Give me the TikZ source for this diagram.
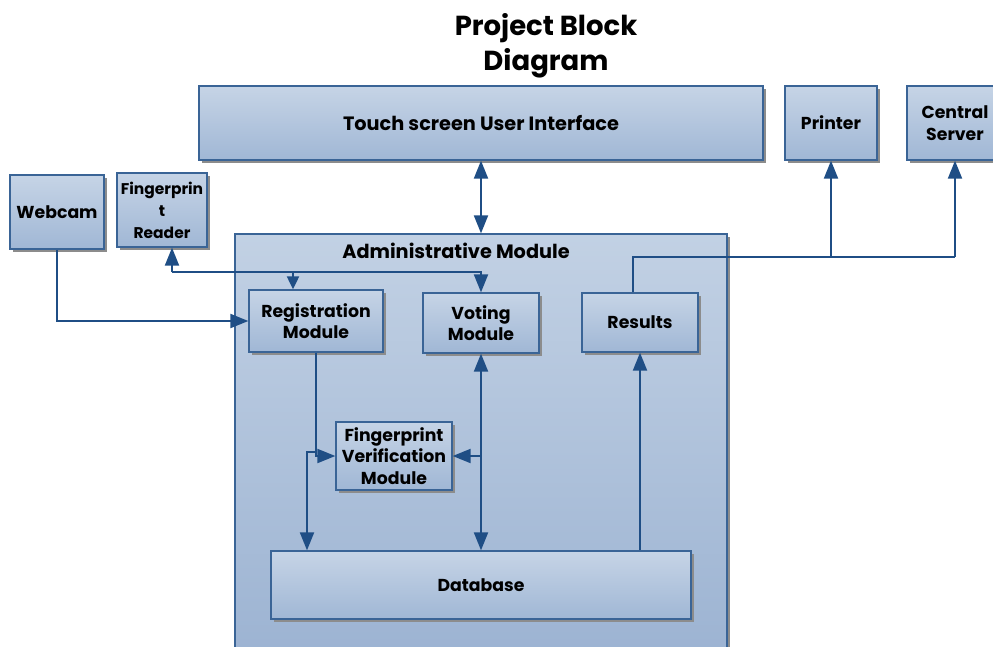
\documentclass[tikz,border=0pt]{standalone}
\usepackage{fontspec}
\setmainfont{Poppins}
\usetikzlibrary{shadows,arrows.meta}
\definecolor{bord}{HTML}{3A6496}
\definecolor{ln}{HTML}{1F4E85}
\definecolor{ftop}{HTML}{C6D4E6}
\definecolor{fbot}{HTML}{A0B7D5}
\definecolor{atop}{HTML}{C2D1E4}
\definecolor{abot}{HTML}{9CB3D2}
\begin{document}
\begin{tikzpicture}[x=1pt,y=-1pt,
  box/.style={draw=bord, line width=1.3pt, top color=ftop, bottom color=fbot,
    drop shadow={shadow xshift=3pt, shadow yshift=-3pt, fill=black!45, opacity=1},
    font=\bfseries\fontsize{17.3}{21.5}\selectfont, align=center, inner sep=0pt},
  bigtxt/.style={font=\bfseries\fontsize{19.3}{22}\selectfont},
  smalltxt/.style={font=\bfseries\fontsize{15.5}{22}\selectfont},
  conn/.style={draw=ln, line width=2pt},
  arr/.style={-{Triangle[length=18pt,width=14pt]}},
  darr/.style={{Triangle[length=18pt,width=14pt]}-{Triangle[length=18pt,width=14pt]}},
  sarr/.style={-{Triangle[length=13pt,width=12pt]}},
  lbl/.style={font=\bfseries\fontsize{19.3}{22}\selectfont, inner sep=0pt},
  ttl/.style={font=\bfseries\fontsize{27.5}{35}\selectfont, align=center, inner sep=0pt}
]
\useasboundingbox (0,0) rectangle (993,646);
\node[ttl] (title) at (546,46) {Project Block\\Diagram};
% outer boxes
\node[box, bigtxt, minimum width=564pt, minimum height=74pt] (ui) at (481,123) {Touch screen User Interface};
\node[box, minimum width=92pt, minimum height=74pt] (printer) at (831,123) {Printer};
\node[box, minimum width=96pt, minimum height=74pt] (server) at (955,123) {Central\\Server};
\node[box, minimum width=94pt, minimum height=74pt] (webcam) at (57,212) {Webcam};
\node[box, smalltxt, minimum width=90pt, minimum height=74pt] (reader) at (162,210) {Fingerprin\\t\\Reader};
% administrative module
\node[box, top color=atop, bottom color=abot, minimum width=492pt, minimum height=426pt] (admin) at (481,447) {};
\node[lbl] (adminlbl) at (456,251) {Administrative Module};
% inner boxes
\node[box, minimum width=134pt, minimum height=62pt] (reg) at (316,321) {Registration\\Module};
\node[box, minimum width=116pt, minimum height=60pt] (vote) at (481,323) {Voting\\Module};
\node[box, minimum width=116pt, minimum height=59pt] (results) at (640,322.5) {Results};
\node[box, minimum width=116pt, minimum height=68pt] (fvm) at (394,456) {Fingerprint\\Verification\\Module};
\node[box, minimum width=420pt, minimum height=68pt] (db) at (481,585) {Database};
% junction coordinates
\coordinate (fr) at (172,272);
\coordinate (fj) at (293,272);
\coordinate (rb) at (307,452);
\coordinate (rt) at (633,257);
% connectors
\draw[conn, darr] (ui.south) -- (admin.north);
\draw[conn, arr] (webcam.south) |- (reg.west);
\draw[conn, arr] (fr) -- (fr |- reader.south);
\draw[conn, arr] (fr) -| (vote.north);
\draw[conn, sarr] (fj) -- (fj |- reg.north);
\draw[conn, arr] (reg.south) |- (fvm.west);
\draw[conn, arr] (reg.south |- rb) -- (rb) -- (rb |- db.north);
\draw[conn, darr] (vote.south) -- (db.north);
\draw[conn, arr] (vote.south |- fvm.east) -- (fvm.east);
\draw[conn, arr] (db.north -| results.south) -- (results.south);
\draw[conn] (results.north -| rt) -- (rt) -- (rt -| server.south);
\draw[conn, arr] (printer.south |- rt) -- (printer.south);
\draw[conn, arr] (server.south |- rt) -- (server.south);
\end{tikzpicture}
\end{document}
